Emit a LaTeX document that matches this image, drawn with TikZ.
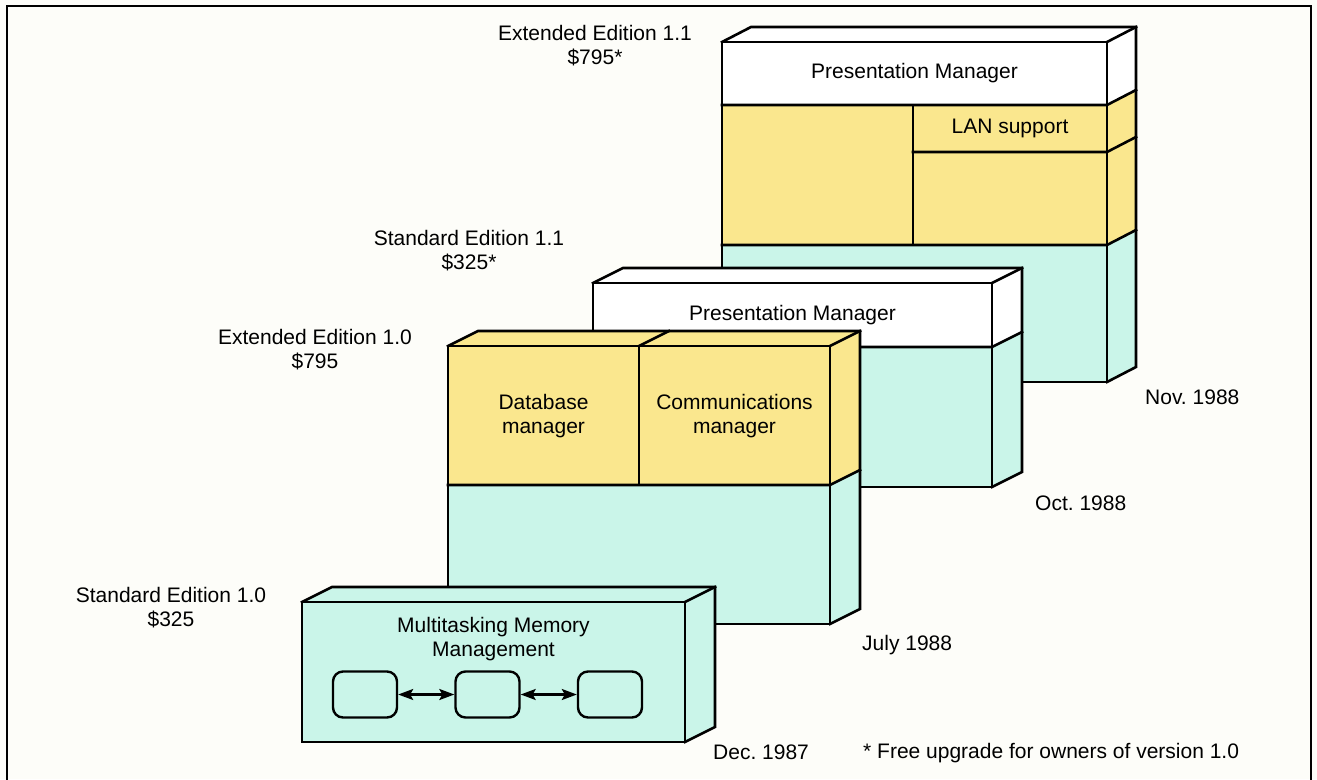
\documentclass[tikz,border=0pt]{standalone}
\usepackage{fontspec}
\setmainfont{Liberation Sans}
\usetikzlibrary{arrows.meta}
\definecolor{ylw}{RGB}{250,231,142}
\definecolor{cyn}{RGB}{202,245,233}
\definecolor{paper}{RGB}{253,253,249}
\tikzset{
  edge/.style={line width=2.6pt, line join=miter, line cap=rect},
  lbl/.style={font=\fontsize{21}{24}\selectfont\frenchspacing, align=center, inner sep=0pt},
  dlbl/.style={font=\fontsize{21}{24}\selectfont\frenchspacing, anchor=west, inner sep=0pt},
  cell/.style={draw, line width=2.4pt, rounded corners=10pt, minimum width=64pt, minimum height=46pt, inner sep=0pt},
  link/.style={line width=2.2pt, {Stealth[length=15pt,width=11pt,inset=3pt]}-{Stealth[length=15pt,width=11pt,inset=3pt]}}
}
\begin{document}
\frenchspacing
\begin{tikzpicture}[x=1pt,y=-1pt]
\useasboundingbox (0,0) rectangle (1317,779);
\fill[paper] (0,0) rectangle (1317,779);
\draw[line width=2pt] (7,781) -- (7,6) -- (1311,6) -- (1311,781);

% ---------- Box 4: Extended Edition 1.1 ----------
\fill[white] (722,42) rectangle (1107,105);
\fill[ylw] (722,105) rectangle (1107,245);
\fill[cyn] (722,245) rectangle (1107,382);
\fill[white] (722,42) -- (751,27) -- (1136,27) -- (1107,42) -- cycle;
\fill[white] (1107,42) -- (1136,27) -- (1136,90) -- (1107,105) -- cycle;
\fill[ylw] (1107,105) -- (1136,90) -- (1136,230) -- (1107,245) -- cycle;
\fill[cyn] (1107,245) -- (1136,230) -- (1136,367) -- (1107,382) -- cycle;
\draw[edge] (722,42) rectangle (1107,382);
\draw[edge] (722,42) -- (751,27) -- (1136,27) -- (1136,367) -- (1107,382);
\draw[edge] (1107,42) -- (1136,27);
\draw[edge] (722,105) -- (1107,105) -- (1136,90);
\draw[edge] (722,245) -- (1107,245) -- (1136,230);
\draw[edge] (913,105) -- (913,245);
\draw[edge] (913,152) -- (1107,152) -- (1136,137);
\node[lbl] (pm4) at (914.5,73.5) {Presentation Manager};
\node[lbl] (lan) at (1010,128.5) {LAN support};

% ---------- Box 3: Standard Edition 1.1 ----------
\fill[white] (593,283) rectangle (992,347);
\fill[cyn] (593,347) rectangle (992,487);
\fill[white] (593,283) -- (623,268) -- (1022,268) -- (992,283) -- cycle;
\fill[white] (992,283) -- (1022,268) -- (1022,332) -- (992,347) -- cycle;
\fill[cyn] (992,347) -- (1022,332) -- (1022,472) -- (992,487) -- cycle;
\draw[edge] (593,283) rectangle (992,487);
\draw[edge] (593,283) -- (623,268) -- (1022,268) -- (1022,472) -- (992,487);
\draw[edge] (992,283) -- (1022,268);
\draw[edge] (593,347) -- (992,347) -- (1022,332);
\node[lbl] (pm3) at (792.5,315) {Presentation Manager};

% ---------- Box 2: Extended Edition 1.0 ----------
\fill[ylw] (448,346) rectangle (830,485);
\fill[cyn] (448,485) rectangle (830,624);
\fill[ylw] (448,346) -- (478,331) -- (860,331) -- (830,346) -- cycle;
\fill[ylw] (830,346) -- (860,331) -- (860,470) -- (830,485) -- cycle;
\fill[cyn] (830,485) -- (860,470) -- (860,609) -- (830,624) -- cycle;
\draw[edge] (448,346) rectangle (830,624);
\draw[edge] (448,346) -- (478,331) -- (860,331) -- (860,609) -- (830,624);
\draw[edge] (830,346) -- (860,331);
\draw[edge] (639,346) -- (669,331);
\draw[edge] (639,346) -- (639,485);
\draw[edge] (448,485) -- (830,485) -- (860,470);
\node[lbl] (db) at (543.5,416.5) {Database\\manager};
\node[lbl] (comm) at (734.5,416.5) {Communications\\manager};

% ---------- Box 1: Standard Edition 1.0 ----------
\fill[cyn] (302,602) rectangle (685,742);
\fill[cyn] (302,602) -- (332,587) -- (715,587) -- (685,602) -- cycle;
\fill[cyn] (685,602) -- (715,587) -- (715,727) -- (685,742) -- cycle;
\draw[edge] (302,602) rectangle (685,742);
\draw[edge] (302,602) -- (332,587) -- (715,587) -- (715,727) -- (685,742);
\draw[edge] (685,602) -- (715,587);
\node[lbl] (mmm) at (493.5,639) {Multitasking Memory\\Management};
\node[cell] (c1) at (365,694.5) {};
\node[cell] (c2) at (487.5,694.5) {};
\node[cell] (c3) at (610,694.5) {};
\draw[link] (c1) -- (c2);
\draw[link] (c2) -- (c3);

% ---------- Edition labels ----------
\node[lbl] (ee11) at (595,45.5) {Extended Edition 1.1\\\$795*};
\node[lbl] (se11) at (469,250.5) {Standard Edition 1.1\\\$325*};
\node[lbl] (ee10) at (315,350) {Extended Edition 1.0\\\$795};
\node[lbl] (se10) at (171,608) {Standard Edition 1.0\\\$325};

% ---------- Dates ----------
\node[dlbl] (nov) at (1145,397) {Nov. 1988};
\node[dlbl] (oct) at (1035,503) {Oct. 1988};
\node[dlbl] (jul) at (862,645) {July 1988};
\node[dlbl] (dec) at (713,752) {Dec. 1987};
\node[dlbl] (note) at (863,753) {* Free upgrade for owners of version 1.0};
\end{tikzpicture}
\end{document}
